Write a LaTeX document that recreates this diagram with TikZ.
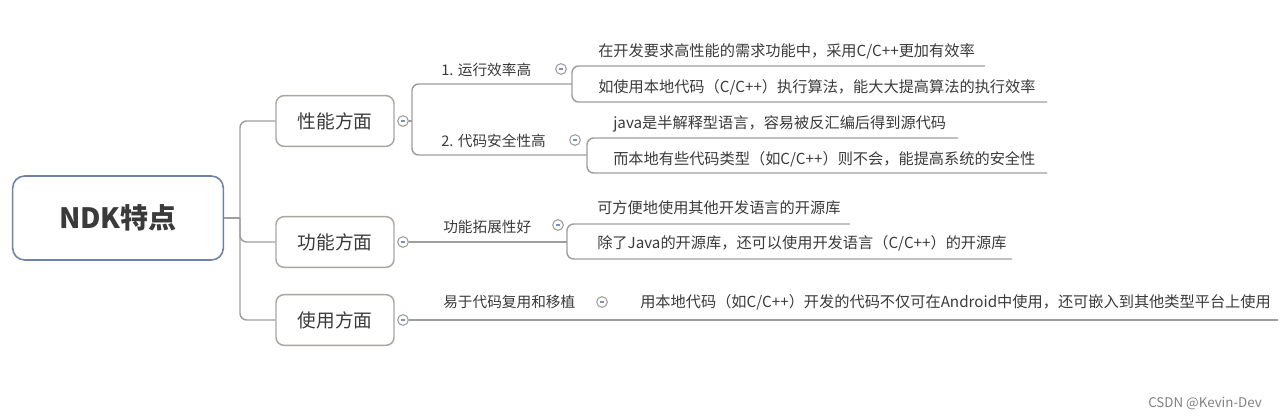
\documentclass[tikz,border=0pt]{standalone}
\usepackage{fontspec}
\setmainfont{Noto Sans CJK SC}
\usepackage{xcolor}
\usetikzlibrary{positioning, calc}
\definecolor{ink}{HTML}{3A3A3A}
\definecolor{wire}{HTML}{9E9E9E}
\definecolor{rootedge}{HTML}{6F82AA}
\definecolor{boxedge}{HTML}{A9A5A0}
\definecolor{minusblue}{HTML}{7F8FC0}

\begin{document}
\begin{tikzpicture}[x=0.75pt, y=-0.75pt,
    root/.style={draw=rootedge, line width=1.2pt, rounded corners=9pt,
                 minimum width=158pt, minimum height=63pt,
                 font=\fontsize{21}{25}\selectfont\bfseries, text=ink},
    topic/.style={draw=boxedge, line width=1.1pt, rounded corners=6pt,
                  minimum width=88.5pt, minimum height=38pt,
                  font=\fontsize{14}{17}\selectfont, text=ink},
    sub/.style={anchor=west, inner sep=0pt, font=\fontsize{11}{13}\selectfont, text=ink},
    leaf/.style={anchor=west, inner sep=0pt, font=\fontsize{11.4}{14}\selectfont, text=ink},
    fold/.style={circle, draw=wire, fill=white, line width=0.8pt, minimum size=8pt,
                 inner sep=0pt,
                 path picture={\draw[minusblue, line width=0.8pt]
                   ([xshift=-1.8pt]path picture bounding box.center) --
                   ([xshift=1.8pt]path picture bounding box.center);}},
    link/.style={draw=wire, line width=1.1pt, rounded corners=5pt}
]
  \useasboundingbox (0,0) rectangle (1280,419);

  \node[root] (ndk) at (118,218) {NDK特点};
  \foreach \n/\t/\y in {perf/性能方面/121, func/功能方面/242, use/使用方面/320} {
    \node[topic] (\n) at (335,\y) {\t};
    \node[fold] (\n-fold) at (403,\y) {};
  }

  % spine
  \coordinate (spine) at (240,218);
  \draw[link] (perf.west) -| (spine) |- (use.west);
  \draw[link] (spine) |- (func.west);
  \draw[link] (ndk.east) -- (spine);

  % performance
  \coordinate (perf-j) at (412,121);
  \coordinate (run-j) at (572,84);
  \coordinate (safe-j) at (587,155);
  \draw[link] (perf-fold) -- (perf-j);
  \draw[link] (run-j) -| (perf-j) |- (safe-j);
  \node[sub] (run) at (441,70) {1. 运行效率高};
  \node[fold] (run-fold) at (561,69) {};
  \node[sub] (safe) at (441,141) {2. 代码安全性高};
  \node[fold] (safe-fold) at (575,140) {};

  \coordinate (run-a) at (985,66);
  \coordinate (run-b) at (1047,102);
  \draw[link] (run-a) -| (run-j) |- (run-b);
  \node[leaf] (run-1) at (598,51) {在开发要求高性能的需求功能中，采用C/C++更加有效率};
  \node[leaf] (run-2) at (598,87) {如使用本地代码（C/C++）执行算法，能大大提高算法的执行效率};

  \coordinate (safe-a) at (958,138);
  \coordinate (safe-b) at (1047,173);
  \draw[link] (safe-a) -| (safe-j) |- (safe-b);
  \node[leaf] (safe-1) at (613,124) {java是半解释型语言，容易被反汇编后得到源代码};
  \node[leaf] (safe-2) at (613,159) {而本地有些代码类型（如C/C++）则不会，能提高系统的安全性};

  % function
  \coordinate (ext-j) at (567,242);
  \draw[link] (func-fold) -- (ext-j);
  \node[sub] (ext) at (443,227) {功能拓展性好};
  \node[fold] (ext-fold) at (558,225) {};
  \coordinate (ext-a) at (850,224);
  \coordinate (ext-b) at (1012,259);
  \draw[link] (ext-a) -| (ext-j) |- (ext-b);
  \node[leaf] (ext-1) at (597,208) {可方便地使用其他开发语言的开源库};
  \node[leaf] (ext-2) at (597,243) {除了Java的开源库，还可以使用开发语言（C/C++）的开源库};

  % usage
  \coordinate (port-end) at (1278,320);
  \draw[link] (use-fold) -- (port-end);
  \node[sub] (port) at (443,302) {易于代码复用和移植};
  \node[fold] (port-fold) at (602,302) {};
  \node[leaf] (port-1) at (640,302) {用本地代码（如C/C++）开发的代码不仅可在Android中使用，还可嵌入到其他类型平台上使用};

  \node[text=gray, font=\fontsize{10}{12}\selectfont] (mark) at (1205,403) {CSDN @Kevin-Dev};
\end{tikzpicture}
\end{document}
